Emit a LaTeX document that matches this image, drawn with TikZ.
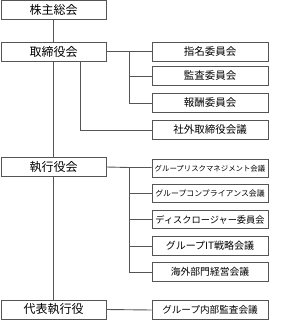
\documentclass[tikz,border=0pt]{standalone}
\usepackage{fontspec}
\setmainfont{Noto Sans CJK JP}
\definecolor{ln}{RGB}{85,85,85}
\tikzset{
  lbox/.style={draw=ln, line width=0.9pt, minimum width=105pt, minimum height=19pt, inner sep=0pt, font=\fontsize{12}{12}\selectfont},
  rbox/.style={draw=ln, line width=0.9pt, minimum width=116pt, minimum height=18.5pt, inner sep=0pt},
  conn/.style={draw=ln, line width=0.9pt}
}
\begin{document}
\begin{tikzpicture}[x=1pt,y=-1pt]
\useasboundingbox (0,0) rectangle (288,320);
% left column
\node[lbox] (kabu) at (53.5,9.8) {株主総会};
\node[lbox] (tori) at (53.5,51.5) {取締役会};
\node[lbox] (shik) at (53.5,167) {執行役会};
\node[lbox] (dai) at (53.5,309.5) {代表執行役};
% right boxes (upper)
\node[rbox, font=\fontsize{10.5}{10.5}\selectfont] (r1) at (210,52) {指名委員会};
\node[rbox, font=\fontsize{10.5}{10.5}\selectfont] (r2) at (210,76) {監査委員会};
\node[rbox, font=\fontsize{10.5}{10.5}\selectfont] (r3) at (210,103) {報酬委員会};
\node[rbox, font=\fontsize{10.5}{10.5}\selectfont] (r4) at (210,130) {社外取締役会議};
% right boxes (lower)
\node[rbox, font=\fontsize{7.4}{7.4}\selectfont] (s1) at (210,168.5) {グループリスクマネジメント会議};
\node[rbox, font=\fontsize{7.9}{7.9}\selectfont] (s2) at (210,193.5) {グループコンプライアンス会議};
\node[rbox, font=\fontsize{9.2}{9.2}\selectfont] (s3) at (210,219.5) {ディスクロージャー委員会};
\node[rbox, font=\fontsize{10}{10}\selectfont] (s4) at (210,246) {グループIT戦略会議};
\node[rbox, font=\fontsize{9.8}{9.8}\selectfont] (s5) at (210,272) {海外部門経営会議};
\node[rbox, font=\fontsize{9.6}{9.6}\selectfont] (s6) at (210,310) {グループ内部監査会議};
% coordinates
\coordinate (j1) at (129,51.5);
\coordinate (j2) at (129,103);
\coordinate (k1) at (129,167.5);
\coordinate (k2) at (129,272);
\coordinate (t2) at (80,61);
% connectors
\draw[conn] (kabu.south) -- (tori.north);
\draw[conn] (tori.south) -- (shik.north);
\draw[conn] (shik.south) -- (dai.north);
\draw[conn] (tori.east) -- (j1) -- (r1.west |- j1);
\draw[conn] (j1) -- (j2) -- (r3.west);
\draw[conn] (j1 |- r2.west) -- (r2.west);
\draw[conn] (t2) |- (r4.west);
\draw[conn] (shik.east) -- (k1) -- (s1.west |- k1);
\draw[conn] (k1) -- (k2) -- (s5.west);
\draw[conn] (k1 |- s2.west) -- (s2.west);
\draw[conn] (k1 |- s3.west) -- (s3.west);
\draw[conn] (k1 |- s4.west) -- (s4.west);
\draw[conn] (dai.east) -- (s6.west);
\end{tikzpicture}
\end{document}
